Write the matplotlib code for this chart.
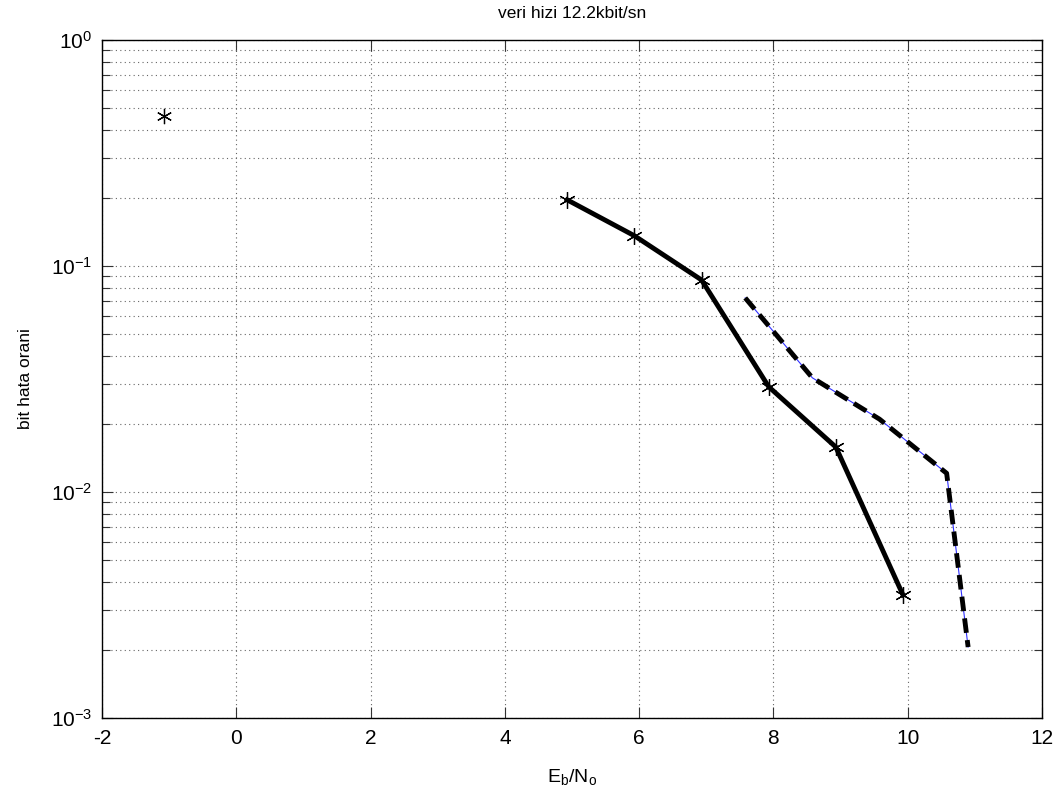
import numpy as np
import matplotlib.pyplot as plt
from matplotlib.ticker import LogLocator, NullFormatter

plt.rcParams['font.family'] = ['Liberation Sans', 'DejaVu Sans']
plt.rcParams['axes.unicode_minus'] = False

# values
single_x = [-1.07]
single_y = [0.46]

solid_x = [4.93, 5.93, 6.93, 7.93, 8.93, 9.93]
solid_y = [0.196, 0.136, 0.0867, 0.0292, 0.0158, 0.0035]

dashed_x = [7.58, 8.58, 9.58, 10.58, 10.9]
dashed_y = [0.0722, 0.032, 0.021, 0.0121, 0.00206]

star = (6, 2, 0)  # matlab style asterisk

fig = plt.figure(figsize=(10.64, 7.96), dpi=100)
ax = fig.add_axes([0.0959, 0.098, 0.8834, 0.8518])

ax.semilogy(single_x, single_y, color='k', linestyle='none', marker=star,
            markersize=11, markeredgewidth=0.9)
ax.semilogy(solid_x, solid_y, 'k-', linewidth=3.5, marker=star, markersize=12,
            markeredgewidth=0.9)
# thin blue line underneath the thick dashed one
ax.semilogy(dashed_x, dashed_y, '-', color='#3030ff', linewidth=0.8)
ax.semilogy(dashed_x, dashed_y, 'k--', linewidth=3.5, dashes=(3, 1.5))

ax.set_xlim(-2, 12)
ax.set_ylim(1e-3, 1e0)
ax.set_xticks(np.arange(-2, 13, 2))
ax.yaxis.set_major_locator(LogLocator(base=10, numticks=10))
ax.yaxis.set_minor_locator(LogLocator(base=10, subs=np.arange(2, 10), numticks=10))
ax.yaxis.set_minor_formatter(NullFormatter())

ax.grid(True, which='major', linestyle=(0, (1, 3)), color='#666666', linewidth=0.8)
ax.grid(True, which='minor', axis='y', linestyle=(0, (1, 3)), color='#666666', linewidth=0.8)

ax.tick_params(which='both', direction='in', top=True, right=True, labelsize=15,
               width=0.8, color='#333333')
ax.tick_params(which='major', length=8)
ax.tick_params(which='minor', length=6)
ax.tick_params(axis='x', pad=8)
ax.tick_params(axis='y', pad=7)
for s in ax.spines.values():
    s.set_linewidth(1.0)

ax.set_title('veri hizi 12.2kbit/sn', fontsize=12.5, pad=16)
ax.set_xlabel('E$_\\mathregular{b}$/N$_\\mathregular{o}$', fontsize=14, labelpad=14)
ax.set_ylabel('bit hata orani', fontsize=12.5, labelpad=13)

fig.savefig('out.png', dpi=100)
